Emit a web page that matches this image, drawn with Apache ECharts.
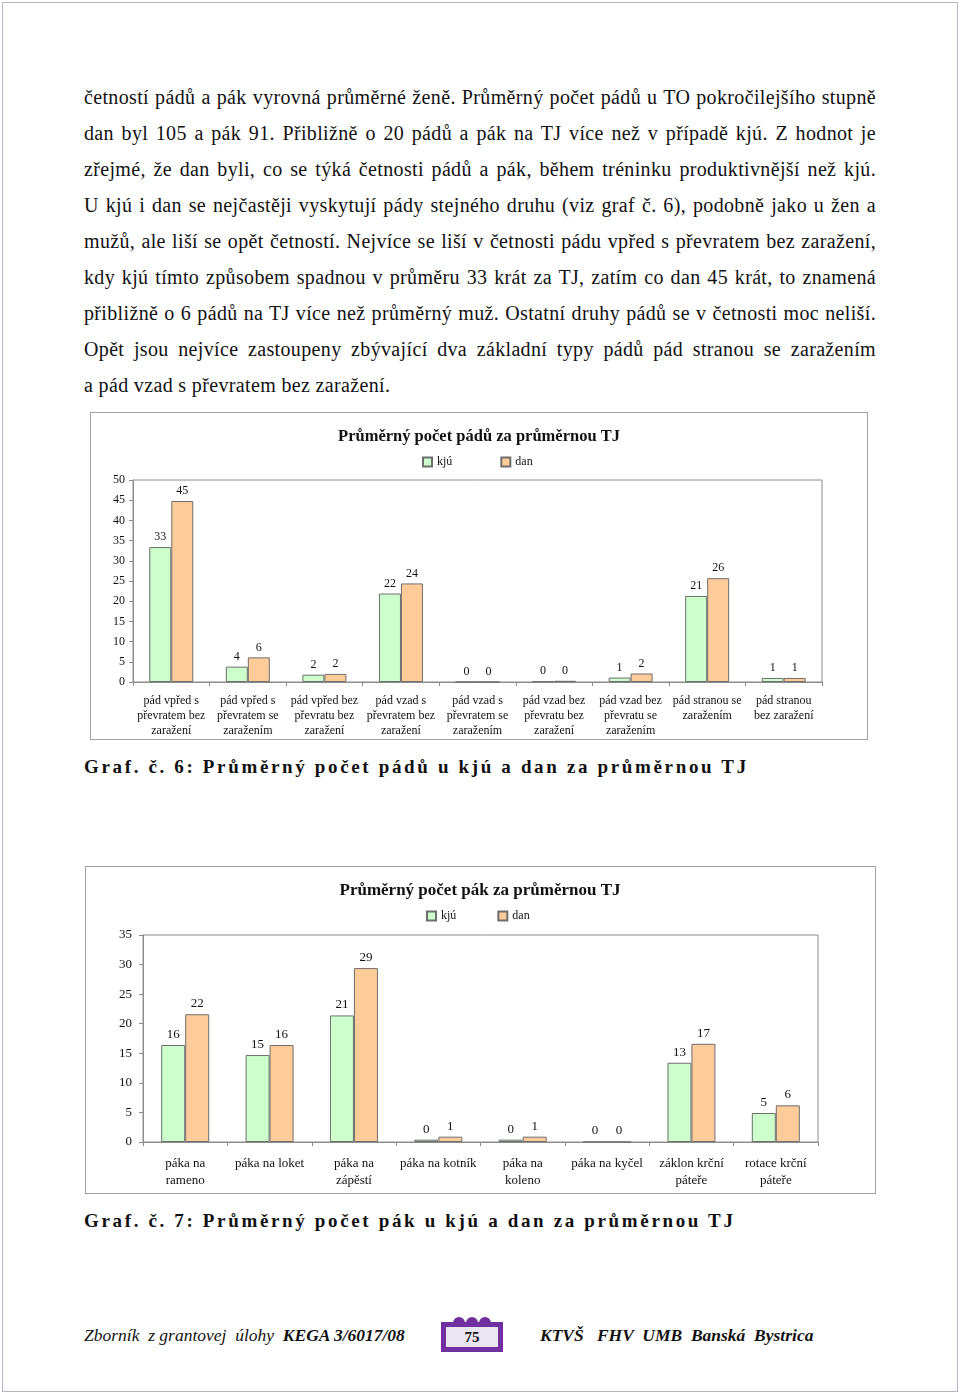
<!DOCTYPE html>
<html>
<head>
<meta charset="utf-8">
<script src="https://cdn.jsdelivr.net/npm/echarts@6/dist/echarts.min.js"></script>
<style>
  html, body { margin:0; padding:0; background:#fff; }
  body { width:960px; height:1396px; position:relative; overflow:hidden; font-family:"Liberation Serif", "Times New Roman", serif; color:#111; }
  .page { position:absolute; left:2px; top:2px; width:954px; height:1388px; border:1px solid #b9b2c4; }
  .para { position:absolute; left:84px; top:79px; width:792px; font-size:20px; letter-spacing:0.35px; line-height:36px; }
  .para div { text-align:justify; text-align-last:justify; white-space:nowrap; }
  .para div.last { text-align-last:left; }
  .cap { position:absolute; left:84px; font-size:19px; font-weight:bold; letter-spacing:2.65px; line-height:24px; white-space:nowrap; }
  .box { position:absolute; border:1px solid #a0a0a0; box-sizing:border-box; pointer-events:none; }
  .chart { position:absolute; }
  .foot { position:absolute; top:1323px; font-size:17.5px; line-height:24px; white-space:pre; font-style:italic; }
  .num { position:absolute; left:441px; top:1322px; width:62px; height:30px; background:#7030a0; }
  .num .in { position:absolute; left:5px; top:5px; width:52px; height:20px; background:#e9e5f1; text-align:center; font-weight:bold; font-size:15px; line-height:21px; color:#111; }
  .bump { position:absolute; top:1317px; width:12px; height:12px; border-radius:6px; background:#7030a0; }
</style>
</head>
<body>
<div class="page"></div>

<div class="para">
  <div>četností pádů a pák vyrovná průměrné ženě. Průměrný počet pádů u TO pokročilejšího stupně</div>
  <div>dan byl 105 a pák 91. Přibližně o 20 pádů a pák na TJ více než v případě kjú. Z hodnot je</div>
  <div>zřejmé, že dan byli, co se týká četnosti pádů a pák, během tréninku produktivnější než kjú.</div>
  <div>U kjú i dan se nejčastěji vyskytují pády stejného druhu (viz graf č. 6), podobně jako u žen a</div>
  <div>mužů, ale liší se opět četností. Nejvíce se liší v četnosti pádu vpřed s převratem bez zaražení,</div>
  <div>kdy kjú tímto způsobem spadnou v průměru 33 krát za TJ, zatím co dan 45 krát, to znamená</div>
  <div>přibližně o 6 pádů na TJ více než průměrný muž. Ostatní druhy pádů se v četnosti moc neliší.</div>
  <div>Opět jsou nejvíce zastoupeny zbývající dva základní typy pádů pád stranou se zaražením</div>
  <div class="last">a pád vzad s převratem bez zaražení.</div>
</div>

<div id="c1" class="chart" style="left:90px;top:412px;width:778px;height:327px;"></div>
<div class="box" style="left:90px;top:412px;width:778px;height:328px;"></div>
<div class="cap" style="top:755px;">Graf. č. 6: Průměrný počet pádů u kjú a dan za průměrnou TJ</div>

<div id="c2" class="chart" style="left:85px;top:866px;width:790px;height:327px;"></div>
<div class="box" style="left:85px;top:866px;width:791px;height:328px;"></div>
<div class="cap" style="top:1209px;">Graf. č. 7: Průměrný počet pák u kjú a dan za průměrnou TJ</div>

<div class="foot" style="left:84px;">Zborník  z grantovej  úlohy  <b>KEGA 3/6017/08</b></div>
<div class="bump" style="left:453px;"></div>
<div class="bump" style="left:466px;"></div>
<div class="bump" style="left:479px;"></div>
<div class="num"><div class="in">75</div></div>
<div class="foot" style="left:540px;font-weight:bold;">KTVŠ   FHV  UMB  Banská  Bystrica</div>

<script>
// ---- Data: chart 6 (falls) ----
const fallTitle = 'Průměrný počet pádů za průměrnou TJ';
const fallCategories = [
  'pád vpřed s\npřevratem bez\nzaražení',
  'pád vpřed s\npřevratem se\nzaražením',
  'pád vpřed bez\npřevratu bez\nzaražení',
  'pád vzad s\npřevratem bez\nzaražení',
  'pád vzad s\npřevratem se\nzaražením',
  'pád vzad bez\npřevratu bez\nzaražení',
  'pád vzad bez\npřevratu se\nzaražením',
  'pád stranou se\nzaražením',
  'pád stranou\nbez zaražení'
];
const fallKju = [33.4, 3.8, 1.8, 21.9, 0, 0.2, 1.1, 21.3, 1.0];
const fallDan = [44.8, 6.1, 2.0, 24.4, 0, 0.3, 2.1, 25.7, 1.0];
const fallAxisMax = 50;
const fallAxisStep = 5;

// ---- Data: chart 7 (locks) ----
const lockTitle = 'Průměrný počet pák za průměrnou TJ';
const lockCategories = [
  'páka na\nrameno',
  'páka na loket',
  'páka na\nzápěstí',
  'páka na kotník',
  'páka na\nkoleno',
  'páka na kyčel',
  'záklon krční\npáteře',
  'rotace krční\npáteře'
];
const lockKju = [16.4, 14.7, 21.4, 0.4, 0.4, 0, 13.4, 4.9];
const lockDan = [21.6, 16.4, 29.4, 0.9, 0.9, 0, 16.6, 6.2];
const lockAxisMax = 35;
const lockAxisStep = 5;

const seriesNames = ['kjú', 'dan'];
const seriesColors = ['#ccffcc', '#ffcc99'];

const FONT = '"Liberation Serif", "Times New Roman", serif';

function makeOption(cfg) {
  return {
    animation: false,
    title: {
      text: cfg.title, left: 'center', top: cfg.titleTop,
      textStyle: { fontFamily: FONT, fontSize: cfg.titleFont, fontWeight: 'bold', color: '#111' }
    },
    legend: {
      data: seriesNames, left: cfg.legendLeft, top: cfg.legendTop, padding: 0,
      itemWidth: 9, itemHeight: 9, itemGap: cfg.legendGap, icon: 'rect',
      textStyle: { fontFamily: FONT, fontSize: 12, color: '#111' }
    },
    grid: {
      left: cfg.grid[0], top: cfg.grid[1], width: cfg.grid[2], height: cfg.grid[3],
      show: true, borderColor: '#8c8c8c', borderWidth: 1, backgroundColor: 'transparent'
    },
    xAxis: {
      type: 'category', data: cfg.categories,
      axisLine: { lineStyle: { color: '#8c8c8c', width: 1 } },
      axisTick: { show: true, length: 4, lineStyle: { color: '#8c8c8c' } },
      axisLabel: { interval: 0, margin: cfg.xMargin, fontFamily: FONT, fontSize: cfg.xFont, lineHeight: cfg.xLine, color: '#111' }
    },
    yAxis: {
      type: 'value', min: 0, max: cfg.max, interval: cfg.step,
      axisLine: { show: true, lineStyle: { color: '#8c8c8c', width: 1 } },
      axisTick: { show: true, length: 4, lineStyle: { color: '#8c8c8c' } },
      splitLine: { show: false },
      axisLabel: { margin: cfg.yMargin, fontFamily: FONT, fontSize: cfg.yFont, color: '#111' }
    },
    series: seriesNames.map((name, i) => ({
      name: name, type: 'bar', data: cfg.values[i],
      barWidth: cfg.barWidth, barGap: '0%',
      itemStyle: { color: seriesColors[i], borderColor: '#6e6e6e', borderWidth: 1 },
      label: {
        show: true, position: 'top', distance: 4,
        fontFamily: FONT, fontSize: cfg.labelFont, color: '#111',
        formatter: p => String(Math.round(p.value))
      }
    }))
  };
}

const c1 = echarts.init(document.getElementById('c1'), null, { renderer: 'canvas' });
c1.setOption(makeOption({
  title: fallTitle, titleTop: 11, titleFont: 16.5, legendLeft: 332, legendTop: 44, legendGap: 48,
  grid: [43, 68, 689, 202],
  categories: fallCategories, max: fallAxisMax, step: fallAxisStep,
  values: [fallKju, fallDan], barWidth: 22,
  xMargin: 11, xFont: 12, xLine: 15, yMargin: 8, yFont: 12, labelFont: 12
}));

const c2 = echarts.init(document.getElementById('c2'), null, { renderer: 'canvas' });
c2.setOption(makeOption({
  title: lockTitle, titleTop: 11, titleFont: 17, legendLeft: 341, legendTop: 44, legendGap: 41,
  grid: [58, 69, 675, 207],
  categories: lockCategories, max: lockAxisMax, step: lockAxisStep,
  values: [lockKju, lockDan], barWidth: 24,
  xMargin: 13, xFont: 13, xLine: 17, yMargin: 11, yFont: 13, labelFont: 13
}));
</script>
</body>
</html>
